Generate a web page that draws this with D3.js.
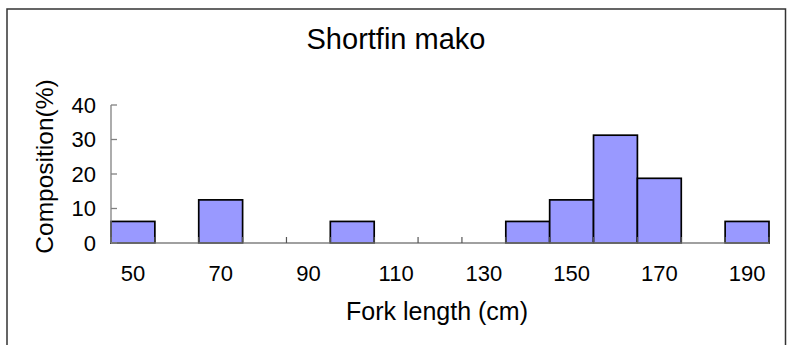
<!DOCTYPE html>
<html>
<head>
<meta charset="utf-8">
<script src="https://cdn.jsdelivr.net/npm/d3@7"></script>
<style>
  html, body { margin: 0; padding: 0; background: #fff; }
  svg { display: block; font-family: "Liberation Sans", Arial, sans-serif; }
</style>
</head>
<body>
<svg id="chart" width="787" height="345"></svg>
<script>
// Data
const categories = [50, 60, 70, 80, 90, 100, 110, 120, 130, 140, 150, 160, 170, 180, 190];
const composition = [6.25, 0, 12.5, 0, 0, 6.25, 0, 0, 0, 6.25, 12.5, 31.25, 18.75, 0, 6.25];
const xTickLabels = [50, 70, 90, 110, 130, 150, 170, 190];
const yTicks = [0, 10, 20, 30, 40];
const titleText = "Shortfin mako";
const xTitle = "Fork length (cm)";
const yTitle = "Composition(%)";

const svg = d3.select("#chart");
const plot = { left: 111, right: 769, top: 105, bottom: 243 };

// chart border
svg.append("rect")
  .attr("x", 7).attr("y", 9)
  .attr("width", 778.5).attr("height", 400)
  .attr("fill", "#fff").attr("stroke", "#333").attr("stroke-width", 1.5);

const x = d3.scaleBand().domain(categories).range([plot.left, plot.right]).padding(0);
const y = d3.scaleLinear().domain([0, 40]).range([plot.bottom, plot.top]);

// bars
svg.append("g").selectAll("rect")
  .data(categories.map((c, i) => ({ c, v: composition[i] })).filter(d => d.v > 0))
  .join("rect")
  .attr("x", d => x(d.c))
  .attr("y", d => y(d.v))
  .attr("width", x.bandwidth())
  .attr("height", d => y(0) - y(d.v))
  .attr("fill", "#9999FF")
  .attr("stroke", "#000")
  .attr("stroke-width", 1.7);

// x axis baseline + inside ticks at band boundaries
const gx = svg.append("g").attr("transform", `translate(0,${plot.bottom})`);
gx.append("line")
  .attr("x1", plot.left).attr("x2", plot.right)
  .attr("stroke", "#808080").attr("stroke-width", 1.3);
const boundaries = categories.map(c => x(c)).concat([x(categories[categories.length - 1]) + x.bandwidth()]);
gx.selectAll("line.tk").data(boundaries).join("line")
  .attr("class", "tk")
  .attr("x1", d => d).attr("x2", d => d)
  .attr("y1", 0).attr("y2", -6)
  .attr("stroke", "#555").attr("stroke-width", 1.2);
gx.selectAll("text").data(xTickLabels).join("text")
  .attr("x", d => x(d) + x.bandwidth() / 2)
  .attr("y", 38)
  .attr("text-anchor", "middle")
  .attr("font-size", 22)
  .attr("fill", "#000")
  .text(d => d);

// y axis
const gy = svg.append("g").attr("transform", `translate(${plot.left},0)`);
gy.append("line")
  .attr("y1", y(0)).attr("y2", y(40))
  .attr("stroke", "#808080").attr("stroke-width", 1.3);
gy.selectAll("line.tk").data(yTicks).join("line")
  .attr("class", "tk")
  .attr("x1", 0).attr("x2", 6)
  .attr("y1", d => y(d)).attr("y2", d => y(d))
  .attr("stroke", "#808080").attr("stroke-width", 1.3);
gy.selectAll("text").data(yTicks).join("text")
  .attr("x", -15)
  .attr("y", d => y(d))
  .attr("dy", "0.36em")
  .attr("text-anchor", "end")
  .attr("font-size", 22)
  .attr("fill", "#000")
  .text(d => d);

// titles
svg.append("text")
  .attr("x", 396).attr("y", 49)
  .attr("text-anchor", "middle")
  .attr("font-size", 29)
  .text(titleText);

svg.append("text")
  .attr("x", 437).attr("y", 320)
  .attr("text-anchor", "middle")
  .attr("font-size", 25)
  .text(xTitle);

svg.append("text")
  .attr("transform", `translate(53,166.5) rotate(-90)`)
  .attr("text-anchor", "middle")
  .attr("font-size", 24.5)
  .text(yTitle);
</script>
</body>
</html>
